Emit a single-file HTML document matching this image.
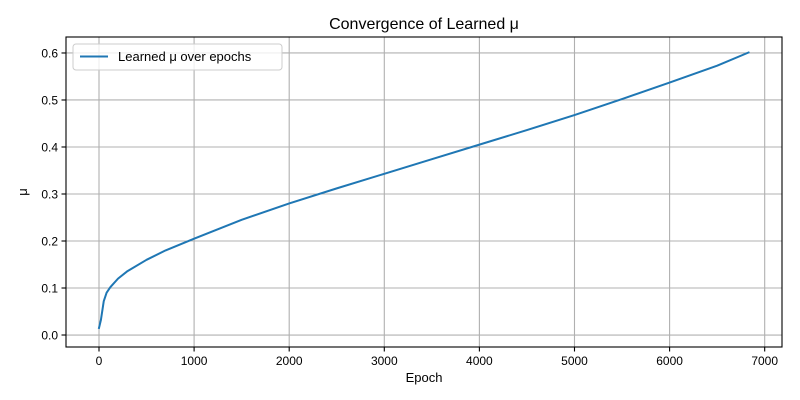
<!DOCTYPE html>
<html><head><meta charset="utf-8"><style>
body{margin:0;background:#fff;}
svg{display:block;font-family:"Liberation Sans","DejaVu Sans",sans-serif;}
</style></head><body>
<svg id="chart" width="800" height="400" viewBox="0 0 800 400">
<rect width="800" height="400" fill="#fff"/>
<g id="grid"></g>
<g id="axes"></g>
<path id="line" fill="none" stroke="#1f77b4" stroke-width="2" stroke-linejoin="round" stroke-linecap="square"/>
<rect x="66" y="37" width="716" height="310" fill="none" stroke="#000" stroke-width="1.1"/>
<text x="424" y="29" text-anchor="middle" font-size="16">Convergence of Learned μ</text>
<text x="424" y="382" text-anchor="middle" font-size="13">Epoch</text>
<text x="0" y="0" text-anchor="middle" font-size="13" transform="translate(27,192) rotate(-90)">μ</text>
<g>
<rect x="73" y="44" width="209" height="26" rx="3" fill="#fff" fill-opacity="0.8" stroke="#ccc"/>
<line x1="80" y1="56.5" x2="108" y2="56.5" stroke="#1f77b4" stroke-width="2"/>
<text x="118" y="61" font-size="13">Learned μ over epochs</text>
</g>
</svg>
<script>
const epochs=[0,20,50,80,120,200,300,500,700,1000,1500,2000,2500,3000,3500,4000,4500,5000,5500,6000,6500,6830];
const muValues=[0.015,0.032,0.072,0.09,0.102,0.12,0.136,0.16,0.18,0.205,0.245,0.28,0.312,0.343,0.374,0.405,0.436,0.468,0.502,0.537,0.573,0.601];
const xTicks=[0,1000,2000,3000,4000,5000,6000,7000];
const yTicks=[0.0,0.1,0.2,0.3,0.4,0.5,0.6];
const L=66,R=782,T=37,B=347;
const xMin=-347,xMax=7182,yMin=-0.0255,yMax=0.634;
const sx=v=>L+(v-xMin)/(xMax-xMin)*(R-L);
const sy=v=>B-(v-yMin)/(yMax-yMin)*(B-T);
const NS="http://www.w3.org/2000/svg";
const grid=document.getElementById('grid'),axes=document.getElementById('axes');
function mk(tag,attrs,parent){const e=document.createElementNS(NS,tag);for(const k in attrs)e.setAttribute(k,attrs[k]);parent.appendChild(e);return e;}
xTicks.forEach(t=>{const x=sx(t);
 const g=mk('line',{x1:x,x2:x,y1:T,y2:B,stroke:'#b0b0b0','stroke-width':1.1},grid);
 
 
 const k=mk('line',{x1:x,x2:x,y1:B,y2:B+4.5,stroke:'#000','stroke-width':1.1},axes);
 
 
 const tx=mk('text',{x:x,y:B+18,'text-anchor':'middle','font-size':12},axes);tx.textContent=t;
 
 
});
yTicks.forEach(t=>{const y=sy(t);
 const g=mk('line',{x1:L,x2:R,y1:y,y2:y,stroke:'#b0b0b0','stroke-width':1.1},grid);
 
 
 const k=mk('line',{x1:L-4.5,x2:L,y1:y,y2:y,stroke:'#000','stroke-width':1.1},axes);
 
 
 const tx=mk('text',{x:L-8,y:y+4.5,'text-anchor':'end','font-size':12},axes);tx.textContent=t.toFixed(1);
 
 
});
document.getElementById('line').setAttribute('d',epochs.map((e,i)=>(i?'L':'M')+sx(e).toFixed(2)+','+sy(muValues[i]).toFixed(2)).join(''));
</script>
</body></html>
